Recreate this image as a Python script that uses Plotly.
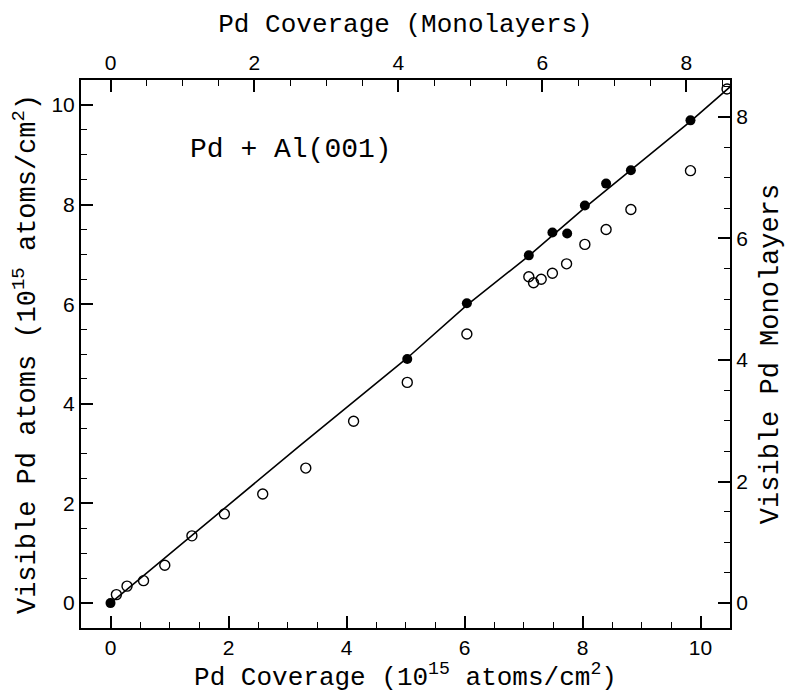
import plotly.graph_objects as go

# Data (units: 10^15 atoms/cm^2)
filled_x = [0.0, 5.03, 6.04, 7.09, 7.49, 7.74, 8.04, 8.40, 8.82, 9.83]
filled_y = [0.0, 4.90, 6.02, 6.98, 7.44, 7.42, 7.98, 8.42, 8.69, 9.69]

open_x = [0.10, 0.28, 0.56, 0.92, 1.38, 1.93, 2.58, 3.31, 4.12, 5.03, 6.04,
          7.09, 7.17, 7.30, 7.49, 7.73, 8.04, 8.40, 8.82, 9.83, 10.45]
open_y = [0.17, 0.34, 0.45, 0.76, 1.35, 1.79, 2.19, 2.71, 3.65, 4.43, 5.40,
          6.55, 6.43, 6.50, 6.62, 6.81, 7.20, 7.50, 7.90, 8.68, 10.32]

fit_x = [0.0, 3.2, 5.03, 6.04, 7.09, 8.04, 9.83, 10.5]
fit_y = [0.0, 3.15, 4.92, 5.98, 6.97, 7.94, 9.67, 10.36]

ML = 1.22  # 10^15 atoms/cm^2 per monolayer
x_range = [-0.5, 10.5]
y_range = [-0.5, 10.5]

hfont = dict(family="Liberation Mono", size=26, color="black")
vfont = dict(family="Liberation Mono", size=27, color="black")
tick_font = dict(family="Liberation Sans", size=21, color="black")

fig = go.Figure()
fig.add_trace(go.Scatter(x=fit_x, y=fit_y, mode="lines",
                         line=dict(color="black", width=1.6), hoverinfo="skip"))
fig.add_trace(go.Scatter(x=open_x, y=open_y, mode="markers",
                         marker=dict(symbol="circle-open", size=10, color="black",
                                     line=dict(width=1.4, color="black"))))
fig.add_trace(go.Scatter(x=filled_x, y=filled_y, mode="markers",
                         marker=dict(symbol="circle", size=10, color="black")))
# dummy trace for the secondary (monolayer) axes
fig.add_trace(go.Scatter(x=[None], y=[None], xaxis="x2", yaxis="y2",
                         mode="markers", hoverinfo="skip"))

axis_common = dict(showgrid=False, zeroline=False, showline=True, linecolor="black",
                   linewidth=2, ticks="inside", ticklen=12, tickwidth=1.5,
                   tickcolor="black", tickfont=tick_font, dtick=2, tick0=0,
                   minor=dict(ticks="inside", ticklen=6, tickwidth=1.2,
                              tickcolor="black", dtick=0.5, tick0=0))

fig.update_layout(
    width=791, height=693,
    margin=dict(l=81, r=56, t=80, b=64),
    paper_bgcolor="white", plot_bgcolor="white",
    showlegend=False,
    xaxis=dict(range=x_range, side="bottom",
               title=dict(text="Pd Coverage (10<sup>15</sup> atoms/cm<sup>2</sup>)",
                          font=hfont, standoff=4),
               **axis_common),
    yaxis=dict(range=y_range, side="left",
               title=dict(text="Visible Pd atoms (10<sup>15</sup> atoms/cm<sup>2</sup>)",
                          font=vfont, standoff=8),
               **axis_common),
    xaxis2=dict(range=[x_range[0] / ML, x_range[1] / ML], overlaying="x", side="top",
                anchor="y2",
                title=dict(text="Pd Coverage (Monolayers)", font=hfont, standoff=10),
                **axis_common),
    yaxis2=dict(range=[y_range[0] / ML, y_range[1] / ML], overlaying="y", side="right",
                anchor="x2",
                title=dict(text="Visible Pd Monolayers", font=vfont, standoff=12),
                **axis_common),
    annotations=[dict(x=1.32, y=9.1, xref="x", yref="y", xanchor="left", yanchor="middle",
                      text="Pd + Al(001)", showarrow=False,
                      font=dict(family="Liberation Mono", size=28, color="black"))],
)

fig.write_html("out.html")
